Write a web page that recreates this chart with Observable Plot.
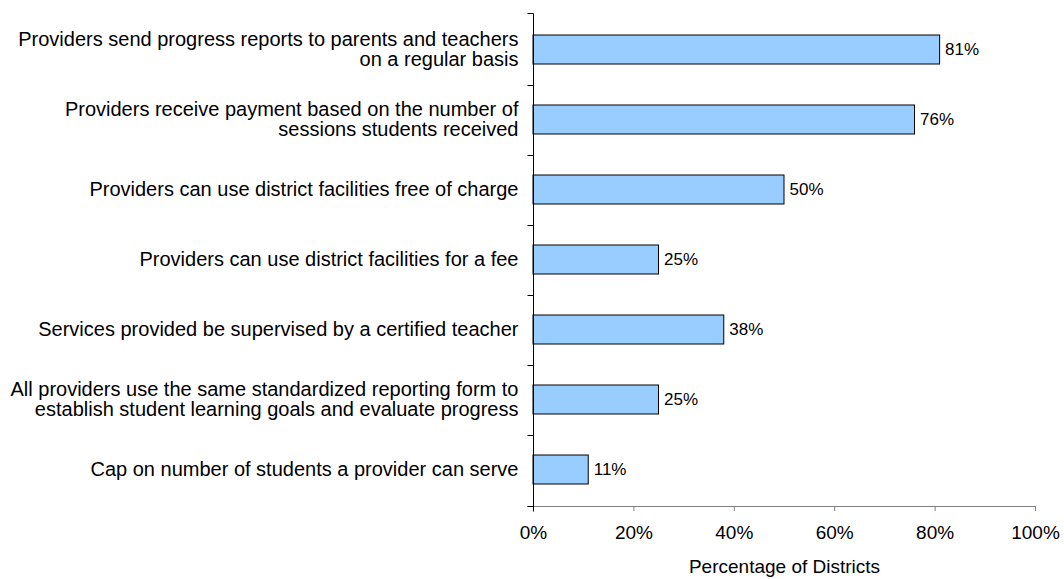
<!DOCTYPE html>
<html><head><meta charset="utf-8">
<script src="https://cdn.jsdelivr.net/npm/d3@7"></script>
<script src="https://cdn.jsdelivr.net/npm/@observablehq/plot@0.6"></script>
<style>body{margin:0;background:#fff}</style>
</head><body><div id="chart"></div>
<script>
const categories = [
  "Providers send progress reports to parents and teachers\non a regular basis",
  "Providers receive payment based on the number of\nsessions students received",
  "Providers can use district facilities free of charge",
  "Providers can use district facilities for a fee",
  "Services provided be supervised by a certified teacher",
  "All providers use the same standardized reporting form to\nestablish student learning goals and evaluate progress",
  "Cap on number of students a provider can serve"
];
const values = [81, 76, 50, 25, 38, 25, 11];
const xTicks = [0, 20, 40, 60, 80, 100];
const xLabel = "Percentage of Districts";

const data = categories.map((c, i) => ({category: c, value: values[i]}));

function axisFrame(index, scales, vals, dims) {
  const y = scales.y, x = scales.x;
  const bw = typeof y.bandwidth === "function" ? y.bandwidth() : (y.bandwidth || 0);
  const top = Math.round(dims.marginTop) + 0.5;
  const bottom = Math.round(dims.height - dims.marginBottom) + 0.5;
  const x0 = Math.round(x(0)) + 0.5;
  const centers = categories.map(c => y(c) + bw / 2);
  const bounds = [top, ...d3.pairs(centers).map(([a, b]) => Math.round((a + b) / 2) + 0.5), bottom];
  const g = d3.create("svg:g");
  g.append("line").attr("x1", x0 - 6).attr("x2", x(100)).attr("y1", bottom).attr("y2", bottom).attr("stroke", "#808080");
  g.append("line").attr("x1", x0).attr("x2", x0).attr("y1", top).attr("y2", bottom + 5).attr("stroke", "#000");
  bounds.forEach(b => g.append("line").attr("x1", x0 - 6).attr("x2", x0).attr("y1", b).attr("y2", b).attr("stroke", "#000"));
  return g.node();
}

const chart = Plot.plot({
  width: 1064,
  height: 579,
  marginLeft: 533,
  marginRight: 29,
  marginTop: 13,
  marginBottom: 73,
  style: {fontFamily: "'Liberation Sans', Arial, sans-serif", fontSize: "20px", color: "#000", background: "#fff"},
  x: {domain: [0, 100]},
  y: {domain: categories, paddingInner: 0.59, paddingOuter: 0.295},
  marks: [
    Plot.barX(data, {x: "value", y: "category", fill: "#99CCFF", stroke: "#000", strokeWidth: 1}),
    Plot.text(data, {x: "value", y: "category", text: d => d.value + "%", textAnchor: "start", dx: 5, fontSize: 17, fill: "#000"}),
    Plot.axisX({ticks: xTicks, tickFormat: d => d + "%", tickSize: 5, tickPadding: 14, stroke: "#808080", fill: "#000", fontSize: 19,
      label: xLabel, labelAnchor: "center", labelArrow: false, labelOffset: 66}),
    Plot.axisY({tickSize: 0, tickPadding: 15, lineHeight: 1.0, label: null, fill: "#000", fontSize: 20}),
    axisFrame
  ]
});
document.getElementById("chart").appendChild(chart);
</script>
</body></html>
